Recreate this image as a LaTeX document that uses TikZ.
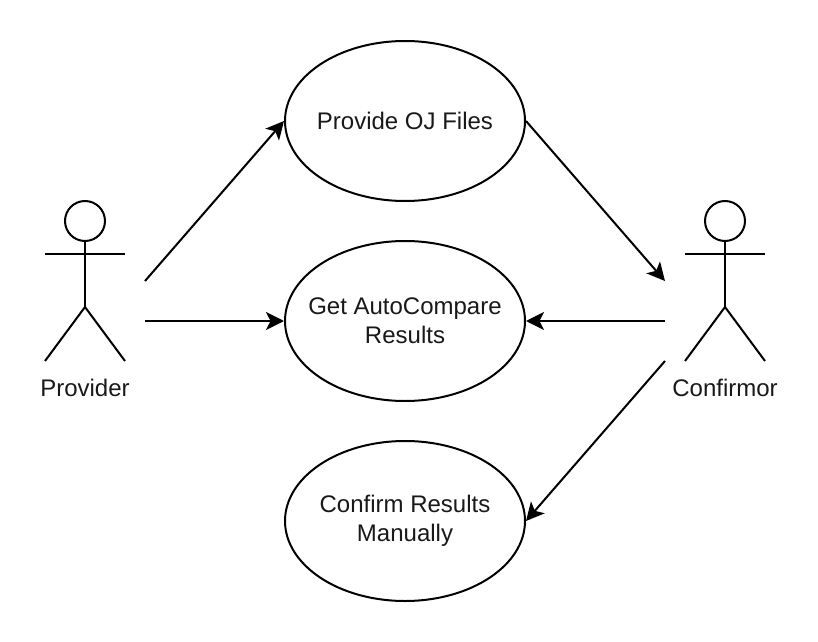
\documentclass[tikz,border=0pt]{standalone}
\usepackage{fontspec}
\setmainfont{Liberation Sans}
\usetikzlibrary{shapes.geometric,arrows.meta}
\tikzset{
  usecase/.style={draw=black,line width=1.5pt,ellipse,minimum width=180pt,minimum height=120pt,inner sep=-30pt,align=center,font=\fontsize{18pt}{22pt}\selectfont,text=black!90},
  actorline/.style={draw=black,line width=1.5pt},
  actorhead/.style={draw=black,line width=1.5pt,circle,minimum size=30pt,inner sep=0pt},
  actorlabel/.style={font=\fontsize{18pt}{22pt}\selectfont,text=black!90,inner sep=0pt,anchor=center},
  conn/.style={draw=black,line width=1.5pt,-{Stealth[length=13.5pt,width=13.5pt,inset=3.4pt]}}
}
\begin{document}
\begin{tikzpicture}[x=0.75pt,y=-0.75pt]
\useasboundingbox (0,0) rectangle (818,642);
\fill[white] (0,0) rectangle (818,642);
\node[usecase] (oj) at (405,121) {Provide OJ Files};
\node[usecase] (cmp) at (405,321) {Get AutoCompare\\Results};
\node[usecase] (man) at (405,521) {Confirm Results\\Manually};
% Provider
\node[actorhead] (phead) at (85,221) {};
\coordinate (phip) at (85,307);
\coordinate (pal) at (45,254);
\coordinate (par) at (125,254);
\coordinate (pll) at (45,361);
\coordinate (plr) at (125,361);
\draw[actorline] (phead.south) -- (phip);
\draw[actorline] (pal) -- (par);
\draw[actorline] (pll) -- (phip) -- (plr);
\node[actorlabel] (plabel) at (85,388) {Provider};
% Confirmor
\node[actorhead] (chead) at (725,221) {};
\coordinate (chip) at (725,307);
\coordinate (cal) at (685,254);
\coordinate (car) at (765,254);
\coordinate (cll) at (685,361);
\coordinate (clr) at (765,361);
\draw[actorline] (chead.south) -- (chip);
\draw[actorline] (cal) -- (car);
\draw[actorline] (cll) -- (chip) -- (clr);
\node[actorlabel] (clabel) at (725,388) {Confirmor};
% connectors
\coordinate (p1) at (145,281);
\coordinate (p2) at (145,321);
\coordinate (c1) at (665,281);
\coordinate (c2) at (665,321);
\coordinate (c3) at (665,361);
\draw[conn] (p1) -- (oj.west);
\draw[conn] (p2) -- (cmp.west);
\draw[conn] (oj.east) -- (c1);
\draw[conn] (c2) -- (cmp.east);
\draw[conn] (c3) -- (man.east);
\end{tikzpicture}
\end{document}
